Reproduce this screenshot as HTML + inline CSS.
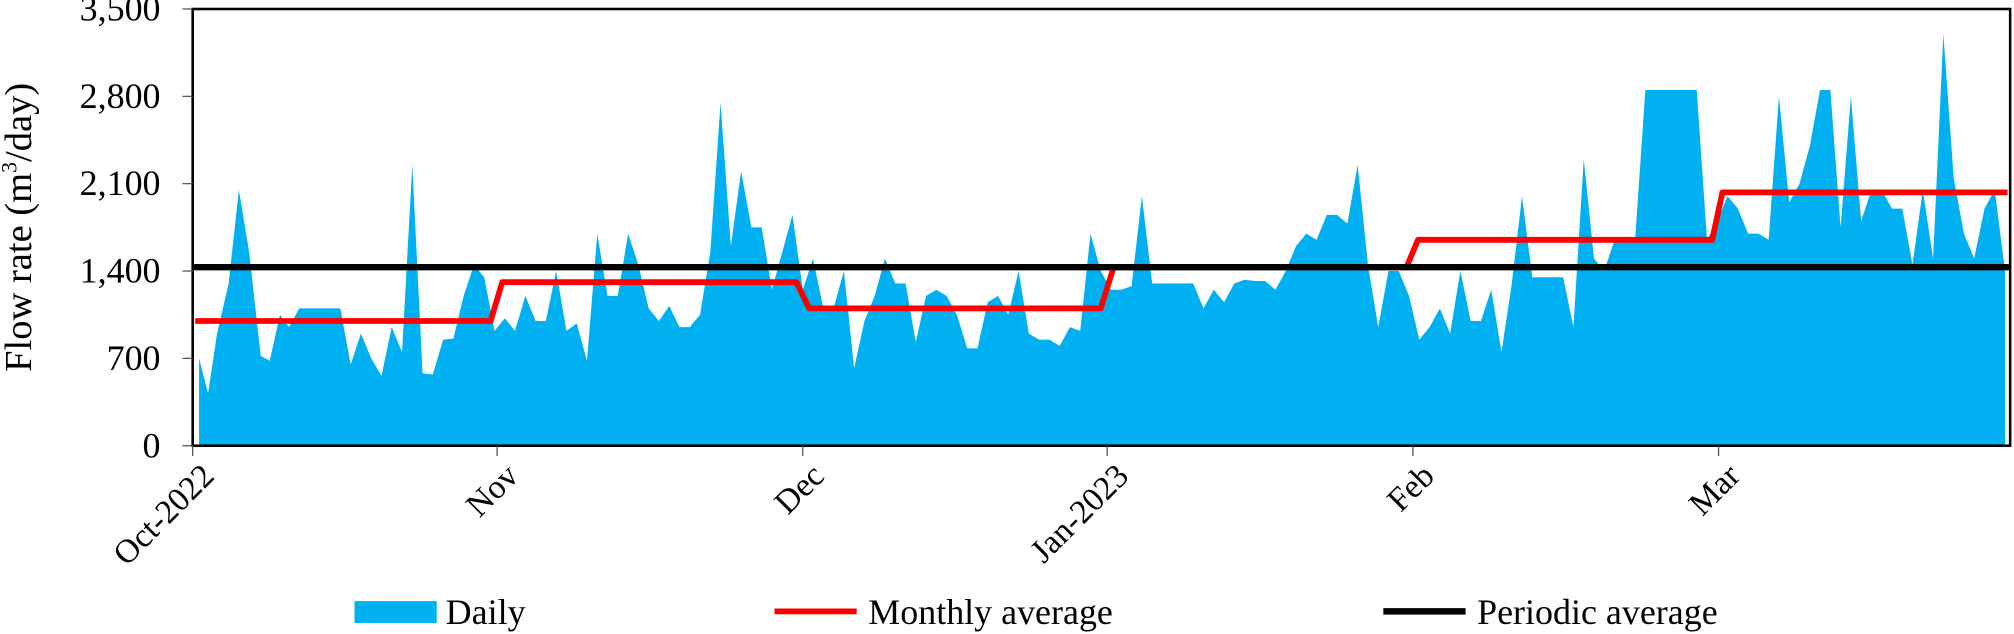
<!DOCTYPE html>
<html><head><meta charset="utf-8"><style>
html,body{margin:0;padding:0;background:#fff;}
svg{display:block;}
text{font-family:"Liberation Serif","Times New Roman",serif;fill:#000;}
</style></head><body>
<svg width="2014" height="634" viewBox="0 0 1568 493.6" preserveAspectRatio="none" xmlns="http://www.w3.org/2000/svg">
<polygon id="daily" fill="#00b0f0" points=""/>
<rect x="150" y="7" width="1415" height="340" fill="none" stroke="#000" stroke-width="2"/>
<g stroke="#555" stroke-width="1">
<line x1="142" y1="7" x2="150" y2="7"/><line x1="142" y1="75" x2="150" y2="75"/><line x1="142" y1="143" x2="150" y2="143"/><line x1="142" y1="211" x2="150" y2="211"/><line x1="142" y1="279" x2="150" y2="279"/><line x1="142" y1="347" x2="150" y2="347"/>
<line x1="150" y1="347" x2="150" y2="355"/><line x1="387" y1="347" x2="387" y2="355"/><line x1="625" y1="347" x2="625" y2="355"/><line x1="862" y1="347" x2="862" y2="355"/><line x1="1100" y1="347" x2="1100" y2="355"/><line x1="1338" y1="347" x2="1338" y2="355"/>
</g>
<g font-size="28" text-anchor="end">
<text x="125" y="16">3,500</text><text x="125" y="84">2,800</text><text x="125" y="152">2,100</text><text x="125" y="220">1,400</text><text x="125" y="288">700</text><text x="125" y="356">0</text>
</g>
<text font-size="30" text-anchor="middle" transform="translate(24,177) rotate(-90)">Flow rate (m<tspan font-size="17" dy="-11">3</tspan><tspan dy="11">/day)</tspan></text>
<g font-size="26" text-anchor="end">
<text transform="translate(168,372) rotate(-45)">Oct-2022</text>
<text transform="translate(405,372) rotate(-45)">Nov</text>
<text transform="translate(643,372) rotate(-45)">Dec</text>
<text transform="translate(880,372) rotate(-45)">Jan-2023</text>
<text transform="translate(1118,372) rotate(-45)">Feb</text>
<text transform="translate(1356,372) rotate(-45)">Mar</text>
</g>
<polyline id="monthly" fill="none" stroke="#ff0000" stroke-width="4.5" stroke-linejoin="round" points=""/>
<line x1="152" y1="208" x2="1563" y2="208" stroke="#000" stroke-width="5" stroke-linecap="round"/>
<rect x="276" y="468" width="64" height="17" fill="#00b0f0"/>
<text x="347" y="486" font-size="28">Daily</text>
<line x1="603" y1="476" x2="667" y2="476" stroke="#ff0000" stroke-width="4.5"/>
<text x="676" y="486" font-size="28">Monthly average</text>
<line x1="1077" y1="476" x2="1141" y2="476" stroke="#000" stroke-width="5"/>
<text x="1150" y="486" font-size="28">Periodic average</text>
</svg>
<script>
var d=[[155,700],[162,420],[169,900],[178,1300],[186,2050],[194,1550],[203,720],[210,680],[218,1050],[225,950],[233,1100],[241,1100],[249,1100],[257,1100],[265,1100],[273,650],[281,900],[289,700],[297,560],[305,950],[313,750],[321,2250],[329,580],[337,570],[345,850],[353,860],[361,1200],[369,1450],[377,1350],[385,920],
[393,1020],[401,920],[409,1200],[417,1000],[425,1000],[433,1400],[441,920],[449,980],[457,680],[465,1700],[473,1200],[481,1200],[489,1700],[497,1450],[505,1100],[513,1000],[521,1120],[529,950],[537,950],[545,1050],[553,1550],[561,2750],[569,1600],[577,2200],[585,1750],[593,1750],[601,1250],[609,1550],[617,1850],[625,1250],
[633,1500],[641,1100],[649,1100],[657,1400],[665,620],[673,1000],[681,1200],[689,1500],[697,1300],[705,1300],[713,830],[721,1200],[729,1250],[737,1200],[745,1050],[753,780],[761,780],[769,1150],[777,1200],[785,1050],[793,1400],[801,900],[809,850],[817,850],[825,800],[833,950],[841,920],[849,1700],[857,1400],[865,1250],
[873,1250],[881,1280],[889,2000],[897,1300],[905,1300],[913,1300],[921,1300],[929,1300],[937,1100],[945,1250],[953,1150],[961,1300],[969,1330],[977,1320],[985,1320],[993,1250],[1001,1400],[1009,1600],[1017,1700],[1025,1650],[1033,1850],[1041,1850],[1049,1780],[1057,2250],[1065,1450],[1073,950],[1081,1400],[1089,1400],[1097,1200],[1105,850],
[1113,950],[1121,1100],[1129,900],[1137,1400],[1145,1000],[1153,1000],[1161,1250],[1169,750],[1177,1300],[1185,2000],[1193,1350],[1201,1350],[1209,1350],[1217,1350],[1225,950],[1233,2300],[1241,1500],[1249,1400],[1257,1650],[1265,1650],[1273,1650],[1281,2850],[1289,2850],[1297,2850],[1305,2850],[1313,2850],[1321,2850],[1329,1650],[1337,1800],
[1345,2000],[1353,1900],[1361,1700],[1369,1700],[1377,1650],[1385,2800],[1393,1950],[1401,2100],[1409,2400],[1417,2850],[1425,2850],[1433,1750],[1441,2800],[1449,1800],[1457,2050],[1465,2050],[1473,1900],[1481,1900],[1489,1450],[1497,2050],[1505,1500],[1513,3300],[1521,2150],[1529,1700],[1537,1500],[1545,1900],[1553,2050],[1561,1400]];
function Y(v){return 347-v*340/3500;}
var p="155,347 ";d.forEach(function(a){p+=a[0]+","+Y(a[1]).toFixed(1)+" ";});p+="1561,347";
document.getElementById("daily").setAttribute("points",p);
var m=[[152,1000],[382,1000],[391,1310],[620,1310],[630,1100],[857,1100],[867,1430],[1095,1430],[1104,1650],[1333,1650],[1341,2030],[1563,2030]];
document.getElementById("monthly").setAttribute("points",m.map(function(a){return a[0]+","+Y(a[1]).toFixed(1);}).join(" "));
</script>
</body></html>
